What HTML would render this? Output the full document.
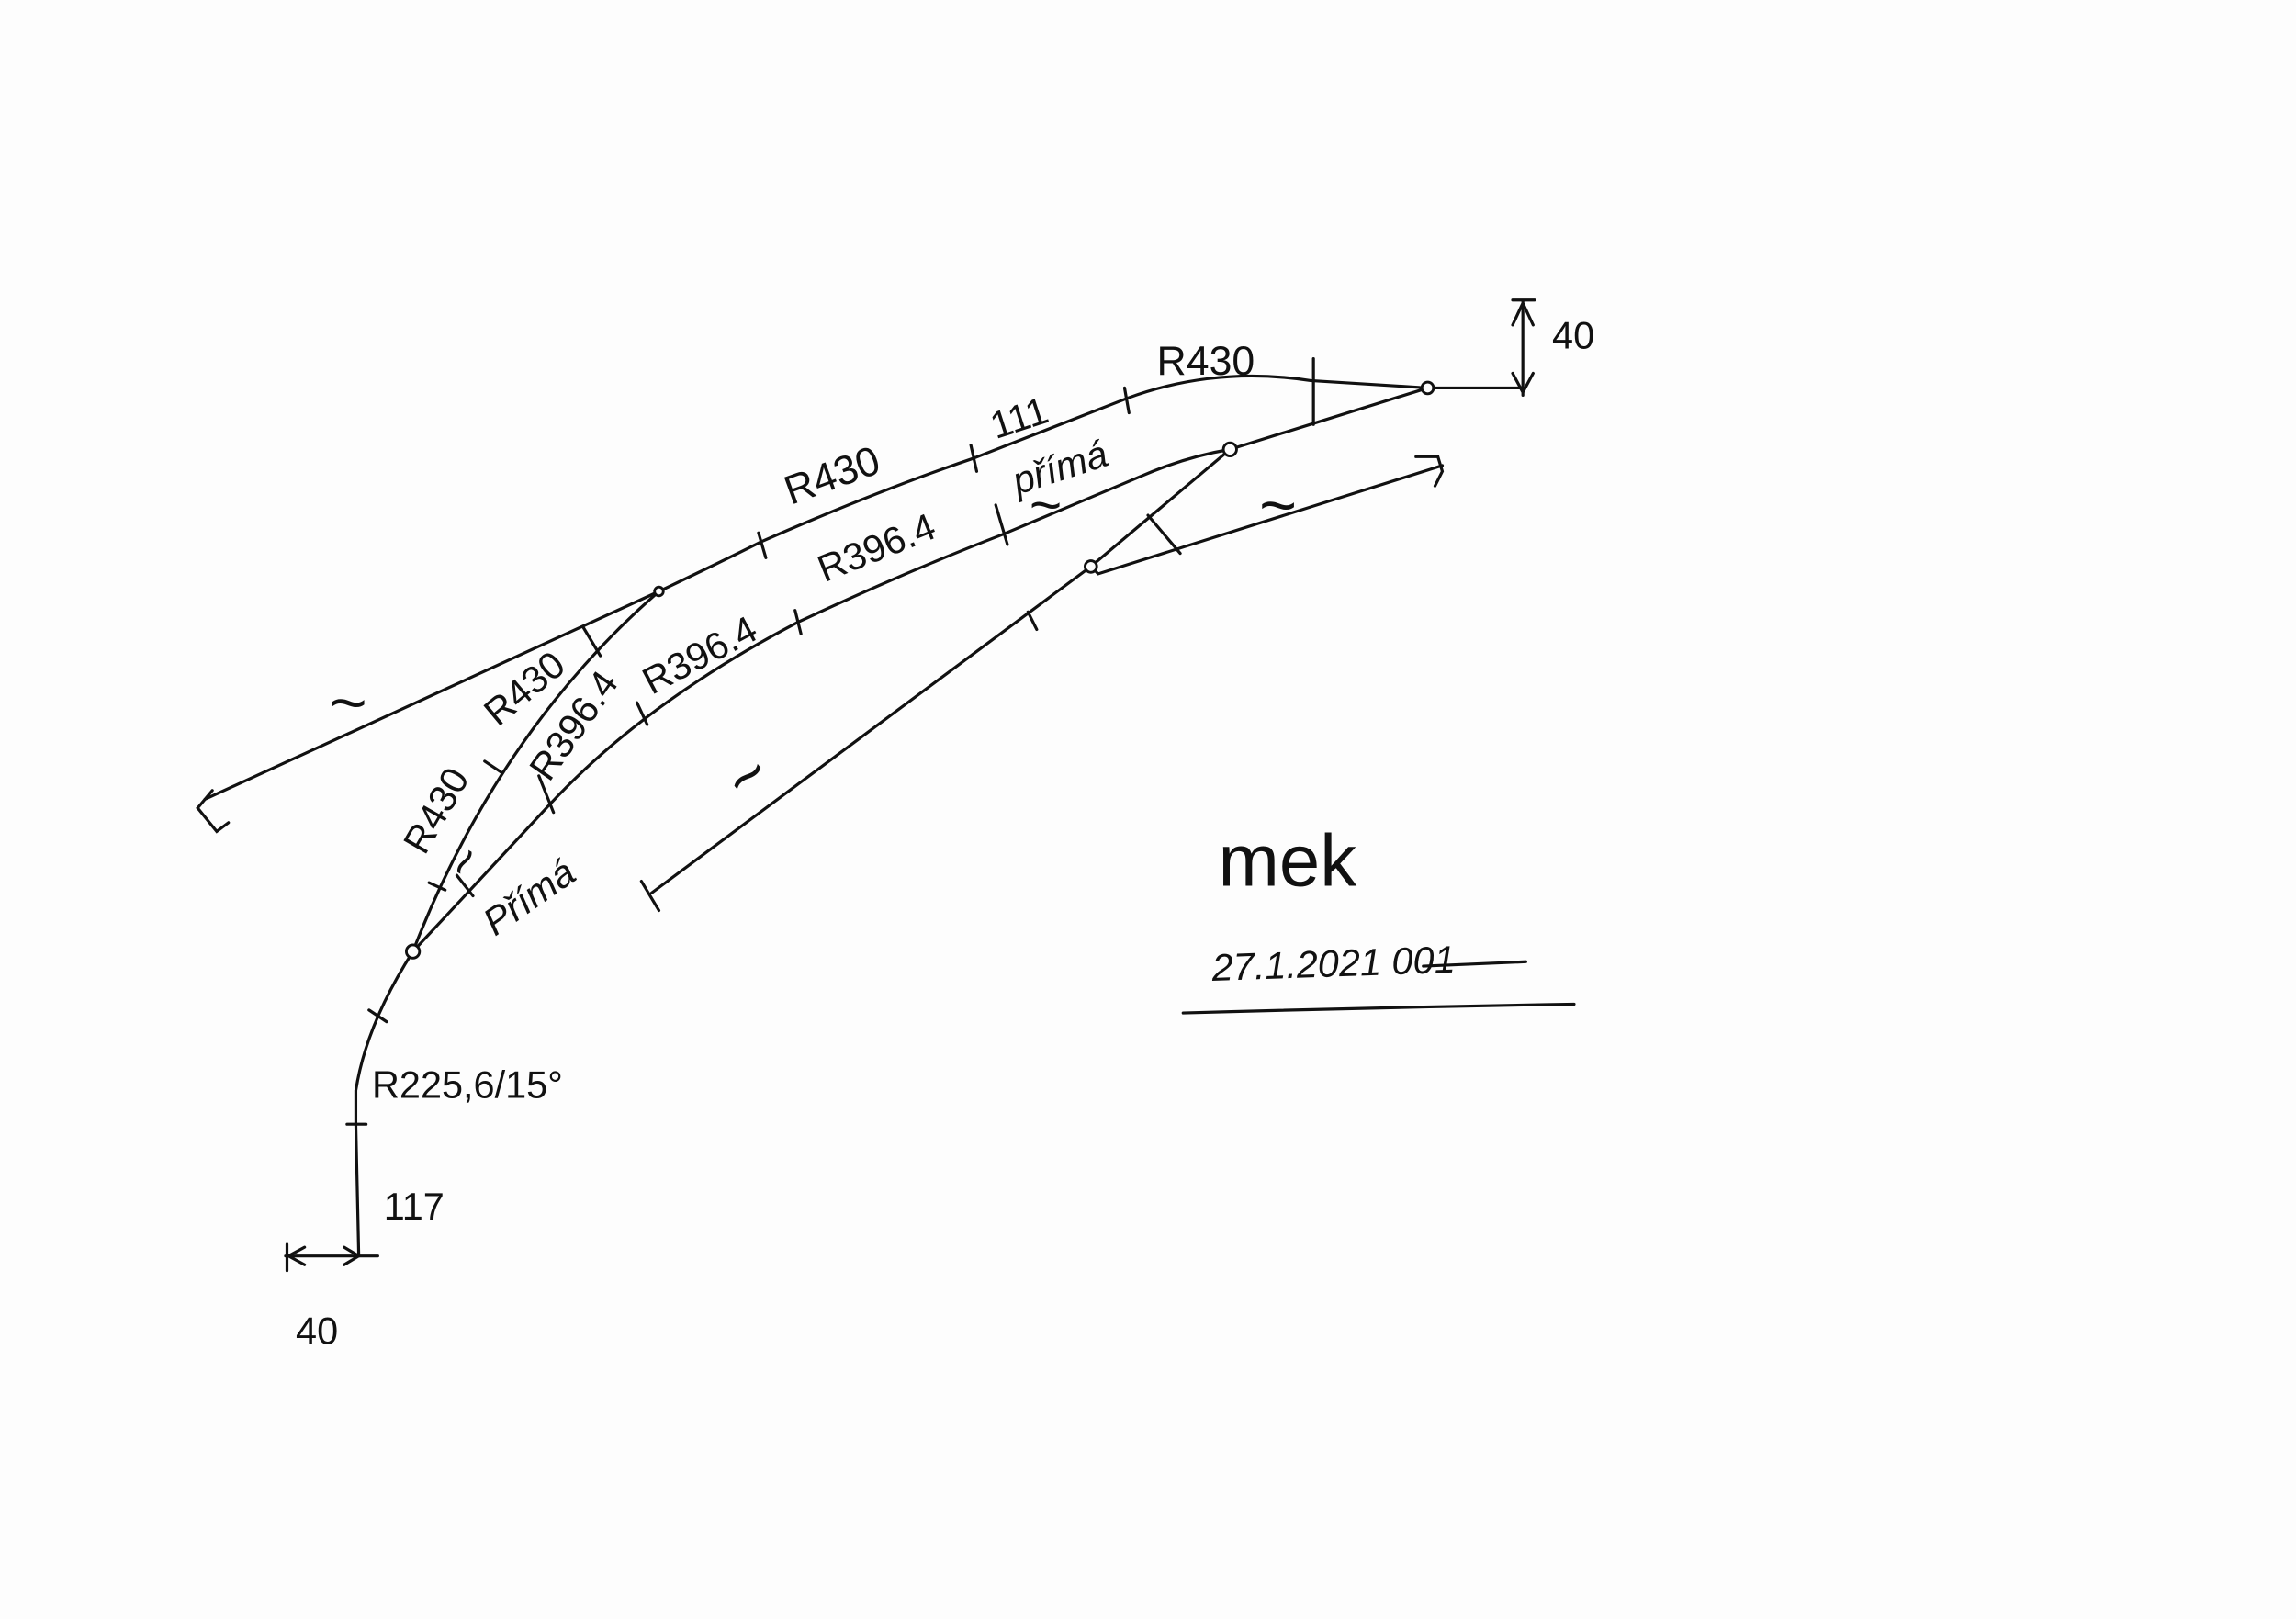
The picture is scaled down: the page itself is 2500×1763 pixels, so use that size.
<!DOCTYPE html>
<html><head><meta charset="utf-8"><style>
html,body{margin:0;padding:0;background:#fdfdfd;}
svg{display:block}
text{font-family:"Liberation Sans",sans-serif;fill:#111}
</style></head><body>
<svg width="2500" height="1763" viewBox="0 0 1568 1106" preserveAspectRatio="none" xmlns="http://www.w3.org/2000/svg">
<rect width="1568" height="1106" fill="#fdfdfd"/>
<g fill="none" stroke="#111" stroke-width="2" stroke-linecap="round">
<path d="M140,546 L450,404 Q490,385 520,370 Q600,335 665,313 L770,272 Q830,250 895,260 L975,265 L1040,265"/>
<path d="M145,540 L135,552 L148,568 L156,562"/>
<path d="M450,404 Q340,500 282,650"/>
<path d="M282,650 L375,550 Q440,480 545,425 Q620,390 685,365 L780,325 Q810,312 840,307 L975,265"/>
<path d="M840,307 L745,387 L445,610"/>
<path d="M745,387 L750,392 L985,318"/>
<path d="M967,312 L982,312 L985,322 L980,332"/>
<path d="M438,602 L450,622"/>
<path d="M282,650 Q250,700 243,745 L243,768 L245,858"/>
<path d="M398,428 L410,448"/>
<path d="M518,364 L523,381"/>
<path d="M663,304 L667,322"/>
<path d="M768,265 L771,282"/>
<path d="M897,245 L897,290"/>
<path d="M331,520 L343,528"/>
<path d="M293,603 L304,608"/>
<path d="M312,598 L323,612"/>
<path d="M368,530 L378,555"/>
<path d="M435,480 L442,495"/>
<path d="M543,417 L547,433"/>
<path d="M680,345 L688,372"/>
<path d="M784,352 L806,378"/>
<path d="M702,418 L708,430"/>
<path d="M252,690 L264,698"/>
<path d="M237,768 L250,768"/>
<path d="M1040,205 L1040,270 M1033,205 L1048,205 M1033,222 L1040,207 L1047,222 M1033,255 L1040,268 L1047,255"/>
<path d="M195,858 L258,858 M196,850 L196,868 M208,852 L197,858 L208,864 M235,852 L245,858 L235,864"/>
<path d="M808,692 Q950,688 1075,686"/>
<path d="M972,660 L1042,657"/>
</g>
<g fill="#fdfdfd" stroke="#111" stroke-width="1.8">
<circle cx="975" cy="265" r="4"/><circle cx="840" cy="307" r="4.5"/><circle cx="745" cy="387" r="4"/><circle cx="450" cy="404" r="3"/><circle cx="282" cy="650" r="4.5"/>
</g>
<g font-size="26">
<text x="790" y="256" font-size="28">R430</text>
<text x="680" y="300" transform="rotate(-18 680 300)">111</text>
<text x="695" y="338" transform="rotate(-18 695 338)" font-style="italic">přímá</text>
<text x="703" y="358" font-size="38">~</text>
<text x="540" y="345" transform="rotate(-20 540 345)" font-size="28">R430</text>
<text x="563" y="398" transform="rotate(-22 563 398)">R396.4</text>
<text x="445" y="475" transform="rotate(-28 445 475)">R396.4</text>
<text x="375" y="535" transform="rotate(-55 375 535)">R396.4</text>
<text x="340" y="497" transform="rotate(-40 340 497)">R430</text>
<text x="290" y="585" transform="rotate(-60 290 585)">R430</text>
<text x="338" y="640" transform="rotate(-35 338 640)" font-style="italic">Přímá</text>
<text x="322" y="603" transform="rotate(-60 322 603)" font-size="34">~</text>
<text x="225" y="495" font-size="44">~</text>
<text x="510" y="550" transform="rotate(-40 510 550)" font-size="44">~</text>
<text x="860" y="360" font-size="44">~</text>
<text x="1060" y="238">40</text>
<text x="254" y="750">R225,6/15°</text>
<text x="262" y="833">117</text>
<text x="202" y="918">40</text>
<text x="832" y="605" font-size="50">mek</text>
<text x="828" y="670" font-style="italic" transform="rotate(-2 828 670)">27.1.2021 001</text>
</g>
</svg>
</body></html>
